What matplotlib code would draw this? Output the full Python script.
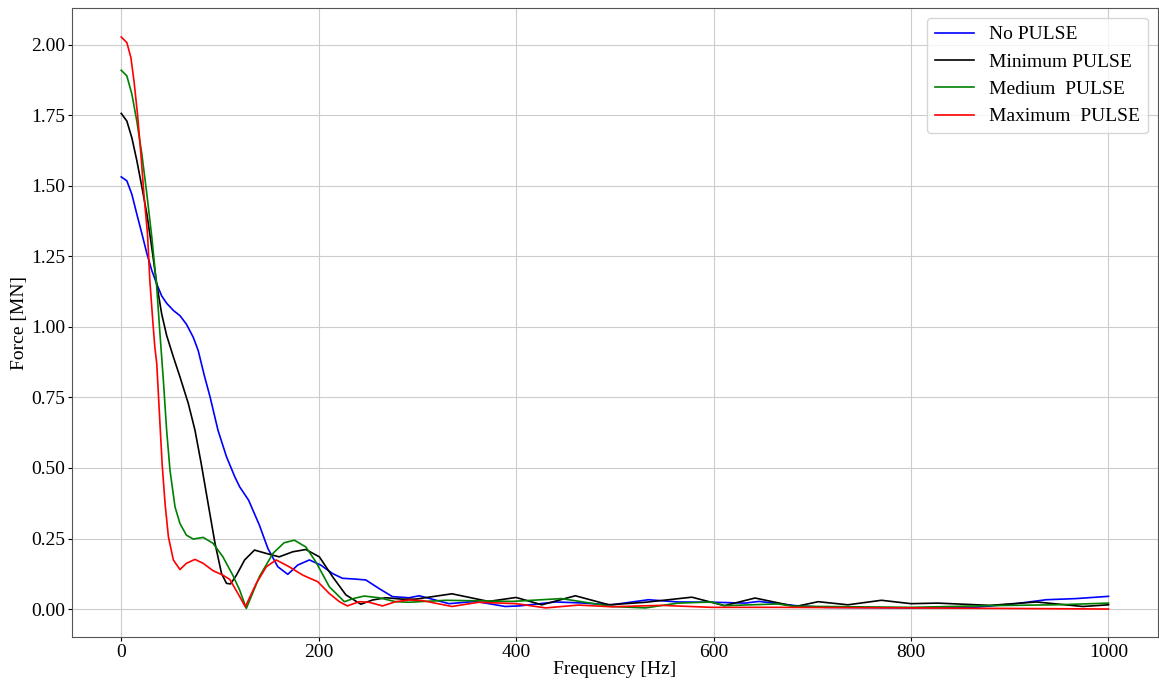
import matplotlib
matplotlib.use("Agg")
import matplotlib.pyplot as plt

plt.rcParams['font.family'] = ['Liberation Serif', 'DejaVu Serif']

# frequency [Hz] / force [MN]
f_no = [0, 5.7, 10.8, 15.8, 21, 26, 31, 36, 41, 46, 53, 59.5, 66, 73, 78, 84, 90, 98, 106.6,
        115, 120, 129, 140, 148.5, 158.6, 168.7, 178.8, 190.6, 202, 214, 224, 237.7, 247.8,
        261, 274.7, 291.5, 302, 332, 359, 389, 403, 440, 463, 497, 534, 564, 600, 632, 646,
        683, 713, 800, 864, 904, 937, 967, 1000]
no_pulse = [1.532, 1.518, 1.47, 1.40, 1.33, 1.26, 1.20, 1.152, 1.11, 1.084, 1.058, 1.04, 1.01,
            0.963, 0.916, 0.83, 0.752, 0.634, 0.54, 0.469, 0.433, 0.386, 0.297, 0.215, 0.15,
            0.123, 0.156, 0.174, 0.156, 0.126, 0.109, 0.106, 0.103, 0.073, 0.044, 0.04, 0.047,
            0.019, 0.027, 0.009, 0.011, 0.025, 0.022, 0.015, 0.033, 0.025, 0.024, 0.021, 0.027,
            0.012, 0.006, 0.004, 0.006, 0.018, 0.033, 0.037, 0.045]

f_min = [0, 5.7, 10.8, 15.8, 21, 26, 31, 36, 41, 46, 52.8, 59.5, 68, 74.7, 81, 88, 95, 101.6,
         106.6, 110.7, 116.7, 125, 135, 147, 160, 173.8, 187, 200.7, 214, 227.6, 242.7, 254.5,
         268, 284.8, 298, 335, 372, 400, 426, 460, 494, 531, 578, 611, 642, 683, 706, 736,
         770, 800, 827, 880, 927, 974, 1000]
min_pulse = [1.757, 1.73, 1.67, 1.59, 1.495, 1.40, 1.28, 1.152, 1.046, 0.97, 0.894, 0.823,
             0.728, 0.634, 0.516, 0.374, 0.233, 0.126, 0.091, 0.089, 0.12, 0.174, 0.209, 0.197,
             0.185, 0.203, 0.211, 0.185, 0.115, 0.05, 0.017, 0.032, 0.04, 0.035, 0.035, 0.054,
             0.027, 0.041, 0.015, 0.047, 0.015, 0.024, 0.042, 0.012, 0.039, 0.009, 0.026,
             0.015, 0.031, 0.019, 0.021, 0.013, 0.025, 0.009, 0.015]

f_med = [0, 5.7, 10.8, 15.8, 21, 26, 31, 36, 39, 42.7, 46, 49.4, 54.5, 59.5, 66, 73, 83, 93,
         103, 113, 120, 126.7, 140, 153.6, 165, 175.4, 187, 197, 210.8, 226, 236, 246, 261,
         278, 291.5, 329, 396, 446, 497, 531, 564, 598, 611, 665, 680, 800, 880, 947, 1000]
med_pulse = [1.91, 1.89, 1.825, 1.73, 1.61, 1.47, 1.318, 1.14, 0.988, 0.81, 0.634, 0.492,
             0.362, 0.303, 0.262, 0.248, 0.254, 0.233, 0.185, 0.12, 0.067, 0.002, 0.115, 0.197,
             0.235, 0.244, 0.22, 0.168, 0.079, 0.026, 0.038, 0.046, 0.04, 0.026, 0.024, 0.031,
             0.027, 0.037, 0.009, 0.004, 0.021, 0.025, 0.012, 0.018, 0.01, 0.006, 0.012,
             0.015, 0.021]

f_max = [0, 5.7, 9.8, 13, 16.5, 20, 23, 26.6, 29, 32, 34, 36, 38.7, 41.4, 44.4, 47.8, 52.8,
         59.5, 66, 74.7, 83, 93, 103, 110, 120, 125.7, 136.8, 147, 157, 170, 184, 199, 210.8,
         221, 229, 241, 251, 264.6, 278, 291.5, 305, 335, 362, 400, 430, 463, 497, 547, 598,
         665, 800, 1000]
max_pulse = [2.028, 2.008, 1.955, 1.87, 1.754, 1.61, 1.47, 1.33, 1.164, 1.02, 0.93, 0.87,
             0.693, 0.516, 0.374, 0.256, 0.174, 0.14, 0.162, 0.176, 0.162, 0.136, 0.12, 0.105,
             0.044, 0.008, 0.091, 0.15, 0.174, 0.15, 0.12, 0.097, 0.055, 0.026, 0.011, 0.026,
             0.024, 0.011, 0.026, 0.032, 0.03, 0.009, 0.024, 0.019, 0.004, 0.014, 0.008, 0.013,
             0.006, 0.006, 0.004, 0.0]

fig, ax = plt.subplots(figsize=(11.59, 6.83), dpi=100)
fig.subplots_adjust(left=0.062, right=0.999, top=0.988, bottom=0.067)

ax.plot(f_no, no_pulse, color='blue', lw=1.2, label='No PULSE')
ax.plot(f_min, min_pulse, color='black', lw=1.2, label='Minimum PULSE')
ax.plot(f_med, med_pulse, color='green', lw=1.2, label='Medium  PULSE')
ax.plot(f_max, max_pulse, color='red', lw=1.2, label='Maximum  PULSE')

ax.grid(True, color='#cccccc', lw=0.8)
ax.set_axisbelow(True)
ax.set_xlim(-50, 1050)
ax.set_ylim(-0.1, 2.13)
ax.set_yticks([0, 0.25, 0.5, 0.75, 1.0, 1.25, 1.5, 1.75, 2.0])
ax.set_xlabel('Frequency [Hz]', fontsize=14, labelpad=0)
ax.set_ylabel('Force [MN]', fontsize=14, labelpad=2)
ax.tick_params(labelsize=14, length=3, pad=2)
for s in ax.spines.values():
    s.set_color('#555555')
ax.legend(loc='upper right', fontsize=14)

fig.savefig('out.png', dpi=100)
